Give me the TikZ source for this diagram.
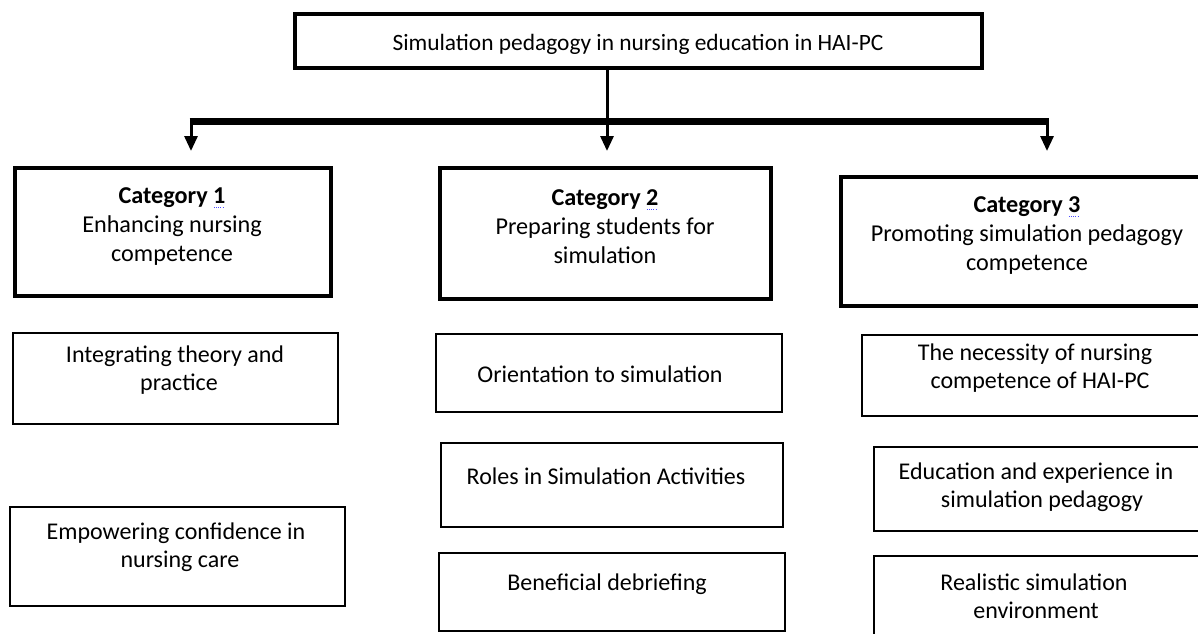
\documentclass[tikz,border=0pt]{standalone}
\usepackage{fontspec}
\setmainfont{Carlito}
\usetikzlibrary{arrows.meta}
\newcommand\dotnum[1]{\rlap{\raisebox{-4pt}{\color{blue!70}\leaders\hbox to 2.2pt{\hss\rule{1pt}{0.9pt}\hss}\hskip 12pt}}#1}
\tikzset{
  thinbox/.style={draw=black, line width=1.6pt, inner sep=0pt},
  thickbox/.style={draw=black, line width=4.5pt, inner sep=0pt},
  topbox/.style={draw=black, line width=3.2pt, inner sep=0pt},
  txt/.style={align=center, inner sep=0pt, font=\fontsize{24}{28}\selectfont},
  cattxt/.style={align=center, inner sep=0pt, font=\fontsize{24.2}{29}\selectfont},
  toptxt/.style={align=center, inner sep=0pt, font=\fontsize{23.4}{26}\selectfont},
  arr/.style={line width=3pt, -{Triangle[length=15pt,width=13pt]}},
  bar/.style={line width=7pt},
}
\begin{document}
\begin{tikzpicture}[x=1pt,y=-1pt]
\useasboundingbox (0,0) rectangle (1198,633);
\clip (0,0) rectangle (1198,633);
% top box
\node[topbox, minimum width=687pt, minimum height=54pt] (top) at (638.5,41) {};
\node[toptxt] (toptext) at (638,44) {Simulation pedagogy in nursing education in HAI-PC};
% category boxes
\node[thickbox, minimum width=316pt, minimum height=128pt] (c1) at (173,232) {};
\node[thickbox, minimum width=331pt, minimum height=131pt] (c2) at (605.5,233.5) {};
\node[thickbox, minimum width=362pt, minimum height=129pt] (c3) at (1022,241.5) {};
\node[cattxt] (c1t) at (172,227) {\textbf{Category \dotnum{1}}\\Enhancing nursing\\competence};
\node[cattxt] (c2t) at (605,227) {\textbf{Category \dotnum{2}}\\Preparing students for\\simulation};
\node[cattxt] (c3t) at (1027,236) {\textbf{Category \dotnum{3}}\\Promoting simulation pedagogy\\competence};
% connectors
\coordinate (j) at (607,121);
\coordinate (bl) at (191,121);
\coordinate (br) at (1047,121);
\coordinate (a1) at (191,151);
\coordinate (a2) at (607,151);
\coordinate (a3) at (1047,151);
\draw[bar] ([xshift=-1.5pt]bl) -- ([xshift=1.5pt]br);
\draw[arr] (top.south -| j) -- (a2);
\draw[arr] ([yshift=-3pt]bl) -- (a1);
\draw[arr] ([yshift=-3pt]br) -- (a3);
% sub boxes
\node[thinbox, minimum width=325pt, minimum height=91pt] (s11) at (175.5,378.5) {};
\node[thinbox, minimum width=335pt, minimum height=99pt] (s12) at (177.5,556.5) {};
\node[thinbox, minimum width=346pt, minimum height=78pt] (s21) at (609,373) {};
\node[thinbox, minimum width=342pt, minimum height=84pt] (s22) at (612,485) {};
\node[thinbox, minimum width=346pt, minimum height=78pt] (s23) at (612,592) {};
\node[thinbox, minimum width=350pt, minimum height=81pt] (s31) at (1037,375.5) {};
\node[thinbox, minimum width=340pt, minimum height=84pt] (s32) at (1044,489) {};
\node[thinbox, minimum width=340pt, minimum height=86pt] (s33) at (1044,599) {};
\node[txt] (s11t) at (175,370) {Integrating theory and\\\hspace*{8pt}practice};
\node[txt] (s12t) at (176,547) {Empowering confidence in\\\hspace*{8pt}nursing care};
\node[txt] (s21t) at (600,374) {Orientation to simulation};
\node[txt] (s22t) at (606,476) {Roles in Simulation Activities};
\node[txt] (s23t) at (607,584) {Beneficial debriefing};
\node[txt] (s31t) at (1035,368) {The necessity of nursing\\\hspace*{10pt}competence of HAI-PC};
\node[txt] (s32t) at (1036,487) {Education and experience in\\\hspace*{12pt}simulation pedagogy};
\node[txt] (s33t) at (1034,596) {Realistic simulation\\\hspace*{4pt}environment};
\end{tikzpicture}
\end{document}
